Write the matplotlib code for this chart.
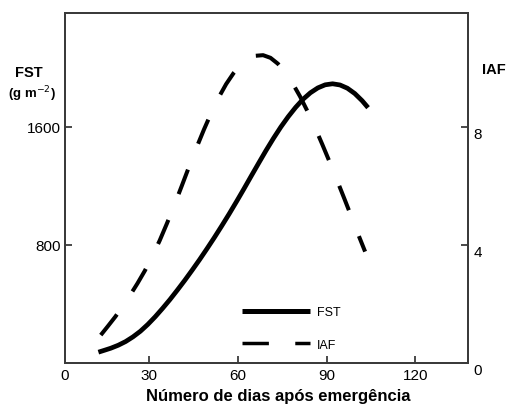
import matplotlib
matplotlib.use("Agg")
import matplotlib.pyplot as plt
from matplotlib.lines import Line2D
from matplotlib.transforms import ScaledTranslation

plt.rcParams['font.family'] = ['Liberation Sans', 'DejaVu Sans']

# Total dry matter (FST, g m-2) versus days after emergence
fst_days = [12.8, 15, 17, 19.5, 22, 24.5, 27, 29.5, 32, 34.5, 37, 39.5, 42, 44.5,
            47, 49.5, 52, 54.5, 57, 59.5, 62, 64.5, 67, 69.5, 72, 74.5, 77, 79.5,
            82, 84.5, 87, 89.5, 92, 94.5, 97, 99.5, 102, 104]
fst_vals = [70, 84, 97, 117, 142, 174, 212, 258, 310, 367, 427, 491, 557, 626,
            697, 771, 847, 926, 1007, 1091, 1177, 1265, 1352, 1438, 1520, 1597, 1667, 1730,
            1785, 1829, 1862, 1883, 1890, 1882, 1860, 1824, 1775, 1728]

# Leaf area index (IAF) versus days after emergence
iaf_days = [13.6, 16, 18.5, 21, 23.5, 26, 28.5, 31, 33.5, 36, 38.5, 41, 43.5, 46,
            48.5, 51, 53.5, 56, 58.5, 61, 63.5, 66, 68.5, 71, 73.5, 76, 78.5, 81,
            83.5, 86, 88.5, 91, 93.5, 96, 98.5, 101, 103]
iaf_vals = [0.93, 1.23, 1.55, 1.90, 2.28, 2.68, 3.11, 3.60, 4.13, 4.72, 5.34, 5.99, 6.65, 7.29,
            7.90, 8.47, 8.99, 9.44, 9.81, 10.10, 10.29, 10.40, 10.42, 10.33, 10.13, 9.84, 9.46, 9.02,
            8.52, 7.98, 7.40, 6.80, 6.18, 5.55, 4.91, 4.26, 3.76]

x_ticks = [30, 60, 90, 120]
fst_ticks = [800, 1600]
iaf_ticks = [0, 4, 8]

W, H = 508, 406
fig = plt.figure(figsize=(W / 100, H / 100), dpi=100)
ax = fig.add_axes([65 / W, 1 - 363.5 / H, (468 - 65) / W, (363.5 - 14) / H])
ax2 = ax.twinx()

spine_col = '#3a3a3a'
for a in (ax, ax2):
    for s in a.spines.values():
        s.set_color(spine_col)
        s.set_linewidth(1.3)

ax.plot(fst_days, fst_vals, color='black', lw=3.4, solid_capstyle='butt',
        solid_joinstyle='round')
dline, = ax2.plot(iaf_days, iaf_vals, color='black', lw=2.9, dash_capstyle='butt',
                  dash_joinstyle='round')
dline.set_dashes((6.5, 6.9))

ax.set_xlim(1.5, 137.8)
ax.set_ylim(0, 2370)
ax2.set_ylim(0, 11.85)

ax.set_xticks([1.5] + x_ticks)
ax.set_xticklabels(['0'] + [str(v) for v in x_ticks])
ax.set_yticks(fst_ticks)
ax.set_yticklabels([str(v) for v in fst_ticks])
ax2.set_yticks(iaf_ticks)
ax2.set_yticklabels([str(v) for v in iaf_ticks])

tick_kw = dict(direction='in', length=5, width=1.3, color=spine_col, labelsize=11)
ax.tick_params(axis='x', pad=4, **tick_kw)
ax.tick_params(axis='y', pad=3, **tick_kw)
ax2.tick_params(axis='y', pad=4, **tick_kw)
ax.get_xticklines()[0].set_visible(False)
ax.get_xticklines()[1].set_visible(False)
for lab in ax2.get_yticklabels():
    lab.set_transform(lab.get_transform() + ScaledTranslation(0, -0.06, fig.dpi_scale_trans))

fig.text(29 / W, 1 - 73 / H, 'FST', fontsize=10.5, fontweight='bold', ha='center', va='center')
fig.text(32 / W, 1 - 94 / H, r'(g m$^{-2}$)', fontsize=9.5, fontweight='bold',
         ha='center', va='center')
fig.text(482 / W, 1 - 70 / H, 'IAF', fontsize=10.5, fontweight='bold', ha='left', va='center')
fig.text(278 / W, 1 - 397 / H, 'Número de dias após emergência', fontsize=12,
         fontweight='bold', ha='center', va='center')

handles = [Line2D([], [], color='black', lw=3.6, solid_capstyle='butt'),
           Line2D([], [], color='black', lw=2.5, dash_capstyle='butt', dashes=(7.6, 7.6))]
ax.legend(handles, ['FST', 'IAF'], loc='upper left',
          bbox_to_anchor=(241.7 / W, 1 - 307 / H), bbox_transform=fig.transFigure,
          frameon=False, fontsize=9, handlelength=5.45, handletextpad=0.55,
          labelspacing=1.65, borderpad=0, borderaxespad=0)

fig.savefig('out.png', dpi=100)
